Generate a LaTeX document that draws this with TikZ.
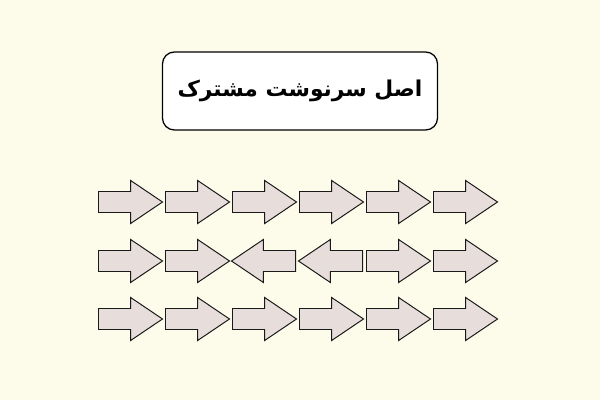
\documentclass[tikz,border=0pt]{standalone}
\usepackage{fontspec}
\usepackage{xcolor}
\usetikzlibrary{shapes.arrows, positioning}
\TeXXeTstate=1
\newfontfamily\persianfont[Script=Arabic]{DejaVu Sans}
\definecolor{bgcream}{HTML}{FDFBEA}
\definecolor{arrowfill}{HTML}{E7DDDB}

\begin{document}
\begin{tikzpicture}[x=0.025cm, y=-0.025cm,
    titlebox/.style={draw, line width=0.9pt, rounded corners=0.3cm, fill=white,
        minimum width=6.875cm, minimum height=1.95cm},
    arrowbox/.style={draw=black!90, line width=0.7pt, fill=arrowfill, single arrow,
        inner sep=0pt, inner ysep=0.25cm, minimum height=1.6cm,
        single arrow head extend=0.275cm, single arrow tip angle=68, anchor=tail}]
    \fill[bgcream] (0,0) rectangle (600,400);
    \useasboundingbox (0,0) rectangle (600,400);

    \node[titlebox] (title) at (300,91) {\fontsize{15.5}{18}\persianfont\bfseries\beginR اصل سرنوشت مشترک\endR};

    % 0 = points right, 180 = points left
    \foreach \row/\y/\dirs in {1/202/{0,0,0,0,0,0}, 2/261/{0,0,180,180,0,0}, 3/319/{0,0,0,0,0,0}} {
        \foreach \d [count=\c] in \dirs
            \node[arrowbox, shape border rotate=\d] (a\row\c) at ({63+67*\c-32*cos(\d)},\y) {};
    }
\end{tikzpicture}
\end{document}
